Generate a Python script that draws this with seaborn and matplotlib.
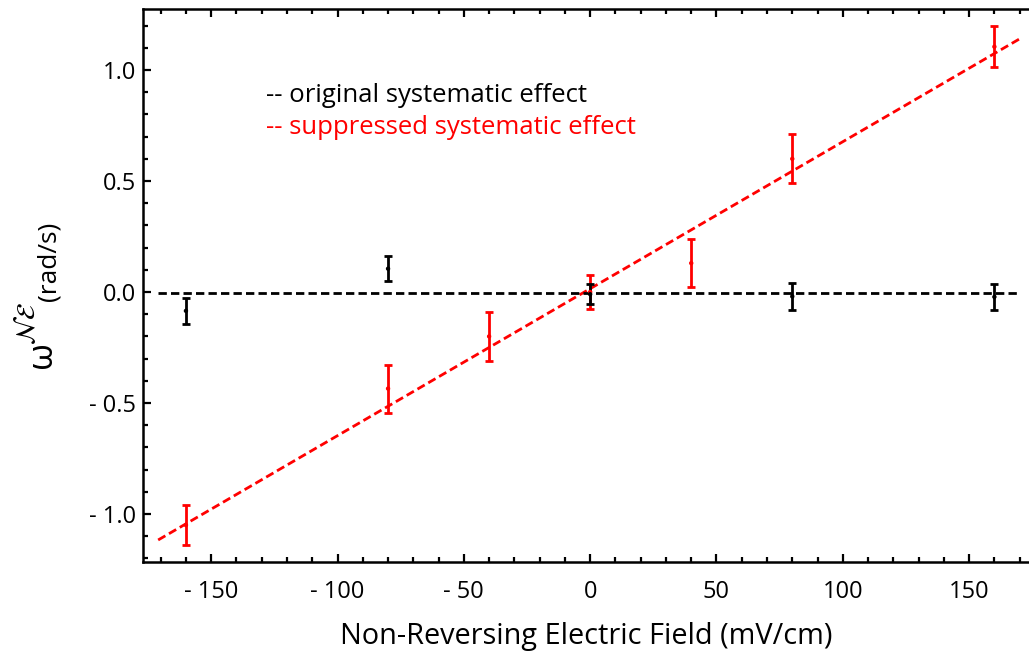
import numpy as np
import pandas as pd
import matplotlib
matplotlib.use("Agg")
import matplotlib.pyplot as plt
import seaborn as sns
from matplotlib.ticker import MultipleLocator, FuncFormatter, FixedLocator

# ---------------- data ----------------
orig_field = [-160, -80, 0, 80, 160]
orig_value = [-0.085, 0.105, -0.010, -0.020, -0.022]
orig_error = [0.057, 0.055, 0.045, 0.060, 0.060]

supp_field = [-160, -80, -40, 0, 40, 80, 160]
supp_value = [-1.050, -0.435, -0.200, 0.000, 0.130, 0.600, 1.105]
supp_error = [0.090, 0.108, 0.110, 0.077, 0.109, 0.111, 0.092]

orig_fit = [0.0, -0.003]        # slope, intercept
supp_fit = [0.00662, 0.015]     # slope, intercept
fit_span = [-171, 170]

x_ticks = [-150, -100, -50, 0, 50, 100, 150]
y_ticks = [-1.0, -0.5, 0.0, 0.5, 1.0]

legend_labels = ["-- original systematic effect", "-- suppressed systematic effect"]
x_label = "Non-Reversing Electric Field (mV/cm)"

BLACK = "#000000"
RED = "#ff0000"

# ---------------- style ----------------
sns.set_theme(style="ticks")
plt.rcParams["font.family"] = ["Open Sans", "DejaVu Sans"]

W, H = 1029, 656
fig = plt.figure(figsize=(W / 100, H / 100), dpi=100)
ax = fig.add_axes([143 / W, 94 / H, 886 / W, 553 / H])

orig_df = pd.DataFrame({"field": orig_field, "value": orig_value, "err": orig_error})
supp_df = pd.DataFrame({"field": supp_field, "value": supp_value, "err": supp_error})

fx = np.array(fit_span, dtype=float)
supp_line = pd.DataFrame({"field": fx, "value": supp_fit[0] * fx + supp_fit[1]})
orig_line = pd.DataFrame({"field": fx, "value": orig_fit[0] * fx + orig_fit[1]})

dash = (0, (3.0, 1.5))
sns.lineplot(data=supp_line, x="field", y="value", color=RED, lw=2.0,
             linestyle=dash, ax=ax, zorder=2)
sns.lineplot(data=orig_line, x="field", y="value", color=BLACK, lw=2.0,
             linestyle=dash, ax=ax, zorder=2)

ax.errorbar(supp_df["field"], supp_df["value"], yerr=supp_df["err"], fmt="none",
            ecolor=RED, elinewidth=2.0, capsize=3, capthick=2.0, zorder=3)
ax.errorbar(orig_df["field"], orig_df["value"], yerr=orig_df["err"], fmt="none",
            ecolor=BLACK, elinewidth=2.0, capsize=3, capthick=2.0, zorder=4)
sns.scatterplot(data=supp_df, x="field", y="value", color=RED, s=10,
                edgecolor="none", ax=ax, zorder=5)
sns.scatterplot(data=orig_df, x="field", y="value", color=BLACK, s=10,
                edgecolor="none", ax=ax, zorder=6)

ax.set_xlim(-177, 173.7)
ax.set_ylim(-1.2162, 1.2748)

def minus_fmt(v, pos=None, decimals=0):
    s = f"{abs(v):.{decimals}f}"
    return ("- " + s) if v < -1e-9 else s

ax.xaxis.set_major_locator(FixedLocator(x_ticks))
ax.xaxis.set_minor_locator(MultipleLocator(10))
ax.yaxis.set_major_locator(FixedLocator(y_ticks))
ax.yaxis.set_minor_locator(MultipleLocator(0.1))
ax.xaxis.set_major_formatter(FuncFormatter(lambda v, p: minus_fmt(v, p, 0)))
ax.yaxis.set_major_formatter(FuncFormatter(lambda v, p: minus_fmt(v, p, 1)))

for side in ["left", "top", "bottom"]:
    ax.spines[side].set_linewidth(1.8)
    ax.spines[side].set_color(BLACK)
ax.spines["right"].set_visible(False)

ax.tick_params(which="both", direction="in", top=True, right=False,
               color=BLACK, width=1.6, labelsize=17, labelcolor=BLACK)
ax.tick_params(which="major", length=6)
ax.tick_params(which="minor", length=3.5)
ax.tick_params(axis="x", which="major", pad=13)
ax.tick_params(axis="y", which="major", pad=5)

ax.set_xlabel(x_label, fontsize=20.8, color=BLACK, labelpad=13)
ax.set_ylabel("")

# y-axis label: omega, calligraphic superscript, then units (rotated)
fig.text(42 / W, 1 - 355 / H, "ω", rotation=90, fontsize=25,
         ha="center", va="center", color=BLACK)
fig.text(28 / W, 1 - 323 / H, r"$\mathcal{N}\mathcal{E}$", rotation=90,
         fontsize=19, ha="center", va="center", color=BLACK, math_fontfamily="stix")
fig.text(49 / W, 1 - 261 / H, "(rad/s)", rotation=90, fontsize=19,
         ha="center", va="center", color=BLACK)

# text legend
ax.text(0.1388, (562 - 96) / 553, legend_labels[0], transform=ax.transAxes,
        fontsize=18.5, color=BLACK, ha="left", va="center")
ax.text(0.1388, (562 - 128) / 553, legend_labels[1], transform=ax.transAxes,
        fontsize=18.5, color=RED, ha="left", va="center")

fig.savefig("out.png", dpi=100)
